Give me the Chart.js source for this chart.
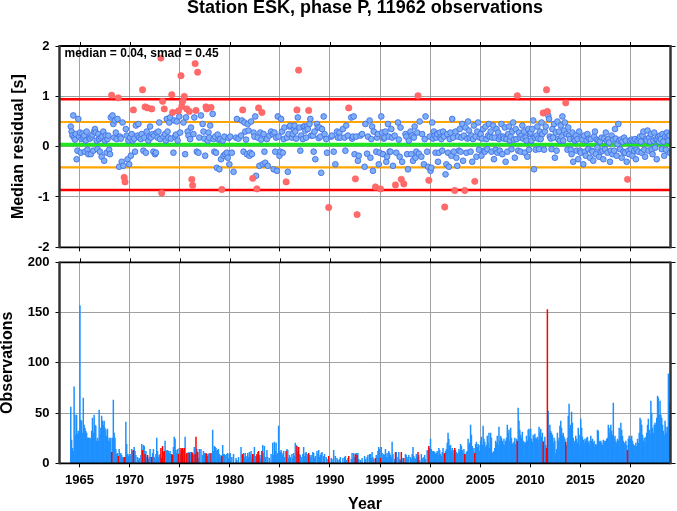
<!DOCTYPE html>
<html><head><meta charset="utf-8">
<script src="https://cdn.jsdelivr.net/npm/chart.js@4.4.1/dist/chart.umd.min.js"></script>
<style>
html,body{margin:0;padding:0;background:#fff;}
#wrap{position:relative;width:677px;height:511px;overflow:hidden;background:#fff}
canvas{position:absolute;left:0}
#top{top:0;width:677px;height:255px}
#bot{top:255px;width:677px;height:256px}
</style></head><body>
<div id="wrap"><canvas id="top" width="677" height="255"></canvas><canvas id="bot" width="677" height="256"></canvas></div>
<script>
const _ = null;
const titleText = 'Station ESK, phase P, 11962 observations';
const medianRes = 0.04;
const smadRes = 0.45;
const startYear = 1964;
const xRange = [1963, 2024];
const yearTicks = [1965,1970,1975,1980,1985,1990,1995,2000,2005,2010,2015,2020];
const resTicks = [-2,-1,0,1,2];
const obsTicks = [0,50,100,150,200];

// monthly observation counts (Jan..Dec per row), 1964-1969
const obsA = [
0,56,23,15,12,76,48,28,48,29,32,30,
157,43,42,30,65,38,35,32,30,25,25,25,
25,24,32,45,30,48,38,37,22,25,22,53,
28,35,47,42,38,42,35,33,27,34,22,25,
22,25,0,25,63,30,25,14,9,10,0,14,
9,10,8,6,5,0,0,41,19,9,7,9];
const resA = [
_,.40,.30,.22,.62,.18,.14,.25,-.25,-.08,.55,.20,
.28,-.12,.15,.26,.18,.22,-.10,.12,.30,-.06,-.15,.18,
.16,-.15,.20,.24,-.08,.30,.35,.28,.12,-.05,.25,.15,
-.10,.18,-.20,.20,.30,-.28,.12,.22,-.12,.15,.22,-.06,
-.15,.58,_,.62,.45,.18,.52,.28,.15,.55,_,-.40,
.20,.16,-.30,.48,-.38,_,_,.35,.22,-.25,.12,-.35];
// 1970-1979
const obsB = [
7,9,14,12,0,16,12,8,0,6,3,5,
0,8,19,0,18,17,0,12,6,0,4,6,
14,6,0,10,14,6,4,9,25,12,6,8,
9,0,0,0,11,0,22,13,12,13,12,10,
12,9,0,0,16,26,24,13,10,14,0,15,
10,0,0,0,13,0,26,8,0,10,11,0,
11,9,0,0,8,16,0,0,14,0,5,14,
0,14,0,8,12,10,9,0,0,7,9,10,
9,0,0,33,12,17,16,15,12,13,14,9,
6,8,0,18,9,9,8,0,9,10,5,9];
const resB = [
.18,-.18,.25,.12,_,.16,-.10,.42,_,.22,.45,.18,
_,.15,.25,_,-.08,.18,_,-.12,.30,_,.12,.20,
.40,.18,_,.25,-.10,.22,-.15,-.12,.28,.18,.30,.48,
.15,_,_,_,.20,_,.25,.12,.55,.30,.18,.48,
.58,.16,_,_,-.12,.52,.20,.24,.50,.12,_,.60,
.28,_,_,_,.48,_,-.15,.58,_,.30,.22,_,
.15,.38,_,_,.25,.58,_,_,-.10,_,-.12,.18,
_,.62,_,.45,.30,.16,-.18,_,_,.12,.28,.18,
.42,_,_,.65,.15,-.10,.20,-.12,-.42,.24,.14,-.45,
.15,-.25,_,.12,-.18,.20,-.15,_,-.12,-.22,.17,-.35];
// 1980-1989
const obsC = [
10,0,6,0,9,0,0,5,3,0,6,0,
0,16,8,0,10,6,10,7,4,10,6,11,
8,12,5,0,9,16,7,6,0,11,0,8,
5,8,0,18,10,17,6,0,13,6,0,5,
0,9,0,20,8,21,12,20,8,10,37,12,
11,13,10,8,12,6,0,0,14,13,5,8,
6,0,9,5,10,7,20,18,0,12,0,9,
8,6,0,9,16,7,10,11,6,9,0,8,
6,8,0,11,10,5,7,0,12,9,13,6,
8,10,11,0,7,9,0,6,4,0,0,0];
const resC = [
.20,_,-.12,_,-.50,_,_,.18,.55,_,.16,_,
_,.22,.52,_,-.10,.48,.30,.14,-.15,.45,.32,-.18,
-.12,.50,-.15,_,.28,.20,.60,-.58,_,.18,_,-.38,
.28,.14,_,-.35,.25,-.10,-.32,_,.15,-.38,_,.22,
_,.30,_,.25,-.45,.28,-.10,.18,-.48,.60,.20,-.18,
-.10,.55,.30,-.12,.15,.38,_,_,.18,-.50,.25,.40,
.42,_,.18,.25,.35,.42,.30,.16,_,.58,_,.38,
-.08,.22,_,.15,.40,.40,.32,.18,.40,.35,_,.45,
.55,.22,_,.22,-.10,.30,-.25,_,.45,.38,.17,.38,
.20,-.52,.35,_,.60,.25,_,.15,-.12,_,_,_];
// 1990-1999
const obsD = [
0,5,4,0,13,0,7,0,5,3,0,4,
6,0,0,5,0,6,7,3,0,5,0,0,
0,4,10,5,10,6,0,10,0,10,4,0,
3,0,5,0,0,7,4,0,6,8,0,9,
9,5,11,6,4,0,0,8,6,12,16,14,
0,16,10,6,9,8,14,6,10,5,12,10,
8,6,21,9,0,4,0,11,0,6,11,4,
3,0,5,0,0,0,9,8,4,6,8,0,
6,4,9,16,7,5,4,9,6,0,8,3,
0,9,5,0,6,8,4,0,13,12,0,15];
const resD = [
_,.20,.22,_,-.10,_,-.35,_,.30,.18,_,.28,
.18,_,_,.35,_,.18,-.08,.42,_,.22,_,_,
_,.58,.16,.20,.60,-.15,_,.20,_,-.28,-.18,_,
.22,_,.25,_,_,-.40,.45,_,-.14,.20,_,.52,
-.22,.15,.40,-.48,.30,_,_,-.10,.18,.25,-.35,-.12,
_,.60,.28,-.15,.16,.18,.30,-.30,-.20,.45,.20,-.10,
-.10,.35,.18,-.38,_,.22,_,-.12,_,.48,.14,-.20,
.38,_,-.30,_,_,_,.25,.20,-.15,-.45,.12,_,
.30,-.15,.22,-.28,.18,.40,-.22,-.10,.28,_,-.14,.50,
_,-.20,.25,_,-.35,.15,.60,_,-.10,-.40,_,.20];
// 2000-2009
const obsE = [
24,14,12,11,12,11,9,10,12,8,15,13,
9,7,11,15,9,0,12,14,20,30,24,17,
18,12,15,9,13,0,13,11,9,10,14,12,
19,17,13,10,14,0,9,11,12,24,18,20,
38,28,17,12,15,0,19,21,16,19,18,12,
22,26,18,37,24,21,16,18,27,20,30,15,
30,25,10,11,12,15,22,20,27,18,36,22,
27,25,22,19,24,18,22,25,38,30,33,22,
35,25,19,20,21,25,19,24,0,55,42,33,
28,25,31,22,19,21,20,27,22,33,34,26];
const resE = [
-.48,-.42,.48,.16,.30,.22,-.12,.18,.25,-.30,-.12,.28,
.18,.15,-.08,.30,.20,_,-.55,-.35,.25,-.12,-.40,.15,
.28,-.18,.55,.18,-.10,_,.30,-.22,-.38,.20,-.08,.35,
-.10,.18,.45,-.28,.22,_,.38,-.12,.16,.50,.32,.18,
-.10,.22,-.30,.15,.42,_,.20,-.20,.30,.48,-.06,.18,
.25,-.18,.16,.35,-.08,-.10,.40,.15,-.05,.22,.45,.20,
.30,-.10,.18,.42,-.25,.18,-.06,.35,-.12,.28,.15,-.08,
.20,.45,-.15,.20,.16,.38,-.30,.15,-.10,.25,.40,.12,
.20,-.05,.30,.48,.14,-.22,.35,.15,_,-.08,.28,.18,
-.10,.22,.42,.16,.30,-.12,.18,.12,-.20,.35,-.06,.25];
// 2010-2019
const obsF = [
34,24,21,28,25,29,25,24,26,23,36,30,
34,26,30,0,22,26,18,0,0,52,30,38,
32,30,28,20,25,22,10,14,30,22,25,37,
42,35,28,30,26,24,0,18,25,47,59,35,
38,51,40,25,22,20,27,24,20,35,28,18,
44,35,26,23,20,24,22,25,26,20,22,18,
27,22,24,20,22,16,19,18,33,32,22,21,
22,20,18,23,22,21,22,24,25,38,30,35,
38,32,28,60,25,27,22,20,24,22,35,26,
40,33,27,22,20,20,22,18,0,24,27,25];
const resF = [
.28,.12,.35,.52,-.45,.18,-.06,.22,.40,.16,-.05,.30,
.15,.48,.25,_,-.06,.30,.40,_,_,.62,.55,.20,
.16,-.05,.35,.18,.45,-.22,.28,-.08,.50,.15,.30,.12,
.42,.20,.60,.12,.32,.48,_,.25,-.06,.38,.22,.15,
-.06,-.15,.28,-.30,.16,.12,.22,-.08,.15,-.25,.30,-.08,
-.12,.18,.14,-.35,.22,-.10,-.18,.12,.25,-.05,.16,-.22,
.15,-.08,-.10,-.28,.20,.30,-.15,.14,-.02,.12,-.20,.10,
-.10,.18,-.08,-.25,.16,-.05,.28,.12,-.12,.15,.08,-.30,
-.08,.22,-.15,.14,-.08,.35,.16,-.18,.05,.45,.12,-.05,
.14,-.22,.10,-.10,.18,-.12,.12,-.30,_,-.08,-.15,.12];
// 2020-2023
const obsG = [
23,27,22,19,17,18,20,17,24,20,30,45,
43,38,28,22,25,20,26,30,38,44,33,29,
62,50,35,30,38,40,38,45,67,65,48,62,
48,45,38,32,28,42,36,30,36,89,48,60];
const resG = [
-.05,.14,-.18,.12,-.08,.15,-.25,-.06,.12,-.10,.16,.20,
.10,-.12,.22,.30,-.06,-.20,.15,.12,.32,-.08,.18,.10,
.25,-.06,-.15,.12,.28,-.02,.15,-.25,.14,.20,.10,.22,
.15,-.05,.25,.10,-.18,.20,-.06,.28,.18,.12,.22,-.12];

// outlier bins (drawn red)
const redYear  = [1968,1968,1969,1969,1970,1971,1971,1971,1972,1973,1973,1973,1973,1974,1974,1974,1975,1975,1975,1975,1975,1975,1976,1976,1976,1976,1976,1977,1977,1978,1979,1981,1982,1982,1982,1983,1985,1986,1986,1987,1989,1991,1992,1992,1994,1995,1996,1997,1997,1998,1999,2001,2002,2003,2004,2008,2011,2011,2011,2013,2019];
const redMonth = [3,11,6,7,5,4,7,10,3,2,3,4,6,3,4,11,2,3,4,6,9,12,3,4,7,8,10,8,9,2,3,4,4,9,11,3,8,9,11,11,11,11,7,9,7,1,7,2,5,10,11,6,6,6,6,9,4,8,9,7,9];
const redRes   = [1.02,.97,-.61,-.70,.73,1.13,.79,.77,.75,1.76,-.92,.90,.75,1.03,.68,.71,1.41,.80,.90,1.00,.75,.70,-.65,-.77,1.65,.72,1.48,.79,.75,.78,-.85,.73,-.63,-.84,.77,.68,-.70,.73,1.52,.72,-1.21,.77,-.64,-1.35,-.80,-.84,-.76,-.65,-.74,1.01,-.67,-1.20,-.87,-.87,-.69,1.01,.67,1.13,.70,.87,-.65];
const redObs   = [11,7,6,6,13,13,9,8,6,15,5,17,12,9,8,9,15,14,15,15,10,10,11,10,9,26,11,10,9,10,7,9,9,9,12,12,12,17,16,10,7,7,9,8,5,5,11,11,5,11,17,10,15,9,10,22,21,15,153,21,13];

const monthlyObs = [].concat(obsA, obsB, obsC, obsD, obsE, obsF, obsG);
const monthlyRes = [].concat(resA, resB, resC, resD, resE, resF, resG);
const redKey = new Set(redYear.map((y, i) => y * 12 + redMonth[i] - 1));
const bluePts = [], blueBars = [];
monthlyObs.forEach((n, i) => {
  const y = startYear + Math.floor(i / 12), m = i % 12;
  if (redKey.has(y * 12 + m) || !n) return;
  const t = y + (m + 0.5) / 12;
  blueBars.push({x: t, y: n});
  if (monthlyRes[i] !== null) bluePts.push({x: t, y: monthlyRes[i]});
});
const redPts = redYear.map((y, i) => ({x: y + (redMonth[i] - 0.5) / 12, y: redRes[i]}));
const redBars = redYear.map((y, i) => ({x: y + (redMonth[i] - 0.5) / 12, y: redObs[i]}));
const hline = v => xRange.map(x => ({x, y: v}));

const FONT = "'Liberation Sans', Arial, Helvetica, sans-serif";
Chart.defaults.font.family = FONT;
Chart.defaults.color = '#000';
const GRID = '#a0a0a0';

const framePlugin = {
  id: 'frame',
  afterDatasetsDraw(chart, args, opts) {
    const {ctx, chartArea: a, scales} = chart;
    ctx.save();
    ctx.strokeStyle = '#000'; ctx.lineWidth = 1;
    scales.x.ticks.forEach(t => {
      const px = Math.round(scales.x.getPixelForValue(t.value)) + 0.5;
      ctx.beginPath(); ctx.moveTo(px, a.top); ctx.lineTo(px, a.top - 4); ctx.stroke();
    });
    scales.y.ticks.forEach(t => {
      const py = Math.round(scales.y.getPixelForValue(t.value)) + 0.5;
      ctx.beginPath(); ctx.moveTo(a.right, py); ctx.lineTo(a.right + 5, py); ctx.stroke();
    });
    ctx.strokeStyle = '#000'; ctx.lineWidth = 1.8;
    ctx.beginPath();
    ctx.moveTo(a.left, a.top); ctx.lineTo(a.right, a.top);
    ctx.moveTo(a.left, a.bottom); ctx.lineTo(a.right, a.bottom);
    ctx.stroke();
    ctx.strokeStyle = '#333'; ctx.lineWidth = 2.5;
    ctx.beginPath();
    ctx.moveTo(a.left, a.top - 0.9); ctx.lineTo(a.left, a.bottom + 0.9);
    ctx.moveTo(a.right, a.top - 0.9); ctx.lineTo(a.right, a.bottom + 0.9);
    ctx.stroke();
    if (opts && opts.note) {
      ctx.font = 'bold 12px ' + FONT;
      ctx.fillStyle = '#000'; ctx.textAlign = 'left'; ctx.textBaseline = 'middle';
      ctx.fillText(opts.note, a.left + 5, a.top + 7.5);
    }
    ctx.restore();
  }
};

const gridOpts = {color: GRID, lineWidth: 1, tickLength: 4, tickColor: '#000', tickWidth: 1, drawTicks: true};
const yTickFont = {size: 13, weight: 'bold', lineHeight: 0.2};
const plainNum = v => String(v);

new Chart(document.getElementById('top'), {
  type: 'scatter',
  data: {datasets: [
    {label: 'outlier bins', data: redPts, backgroundColor: '#ff6b6b', borderColor: '#ff5c5c', pointBorderWidth: 0.6, pointRadius: 3.2, order: 1},
    {label: 'bins', data: bluePts, backgroundColor: '#7eaef6', borderColor: '#4270e8', pointBorderWidth: 0.9, pointRadius: 2.85, order: 2},
    {label: 'median', data: hline(medianRes), showLine: true, borderColor: '#1ee61e', borderWidth: 3.6, pointRadius: 0, order: 3},
    {label: 'median + smad', data: hline(medianRes + smadRes), showLine: true, borderColor: '#ffa500', borderWidth: 2.2, pointRadius: 0, order: 4},
    {label: 'median - smad', data: hline(medianRes - smadRes), showLine: true, borderColor: '#ffa500', borderWidth: 2.2, pointRadius: 0, order: 4},
    {label: 'median + 2 smad', data: hline(medianRes + 2 * smadRes), showLine: true, borderColor: '#ff0000', borderWidth: 2.5, pointRadius: 0, order: 4},
    {label: 'median - 2 smad', data: hline(medianRes - 2 * smadRes), showLine: true, borderColor: '#ff0000', borderWidth: 2.5, pointRadius: 0, order: 4}
  ]},
  options: {
    responsive: false, animation: false, events: [],
    layout: {padding: {left: 0, right: 6.5, top: 0, bottom: 0}},
    plugins: {
      legend: {display: false}, tooltip: {enabled: false},
      title: {display: true, text: titleText, fullSize: false, color: '#000',
              font: {size: 18, weight: 'bold', lineHeight: 0.85}, padding: {top: 0, bottom: 30.7}},
      frame: {note: 'median = ' + medianRes.toFixed(2) + ', smad = ' + smadRes.toFixed(2)}
    },
    scales: {
      x: {type: 'linear', min: xRange[0], max: xRange[1], offset: false,
          afterBuildTicks: s => { s.ticks = yearTicks.map(v => ({value: v})); },
          ticks: {display: false}, grid: gridOpts, border: {display: false},
          afterFit: s => { s.height = 7.7; }},
      y: {type: 'linear', min: -2, max: 2,
          afterBuildTicks: s => { s.ticks = resTicks.map(v => ({value: v})); },
          ticks: {font: yTickFont, padding: 6, color: '#000', callback: plainNum}, grid: gridOpts, border: {display: false},
          title: {display: true, text: 'Median residual [s]', color: '#000', font: {size: 16, weight: 'bold', lineHeight: 1}, padding: {top: 10.5, bottom: 0}},
          afterFit: s => { s.width = 59.5; }}
    }
  },
  plugins: [framePlugin]
});

new Chart(document.getElementById('bot'), {
  type: 'bar',
  data: {datasets: [
    {label: 'outlier bins', data: redBars, backgroundColor: '#ff0000', grouped: false, barPercentage: 1, categoryPercentage: 1, order: 1},
    {label: 'observations', data: blueBars, backgroundColor: '#1e90ff', grouped: false, barPercentage: 1, categoryPercentage: 1, order: 2}
  ]},
  options: {
    responsive: false, animation: false, events: [],
    layout: {padding: {left: 0, right: 6.5, top: 6.7, bottom: 0}},
    plugins: {legend: {display: false}, tooltip: {enabled: false}, frame: {}},
    scales: {
      x: {type: 'linear', min: xRange[0], max: xRange[1], offset: false,
          afterBuildTicks: s => { s.ticks = yearTicks.map(v => ({value: v})); },
          ticks: {font: {size: 13, weight: 'bold'}, padding: 5, color: '#000', maxRotation: 0, autoSkip: false, callback: plainNum},
          grid: Object.assign({}, gridOpts, {offset: false}), border: {display: false},
          title: {display: true, text: 'Year', color: '#000', font: {size: 16, weight: 'bold', lineHeight: 1}, padding: {top: 0, bottom: -2}},
          afterFit: s => { s.height = 47.7; }},
      y: {type: 'linear', min: 0, max: 200,
          afterBuildTicks: s => { s.ticks = obsTicks.map(v => ({value: v})); },
          ticks: {font: yTickFont, padding: 6, color: '#000', callback: plainNum}, grid: gridOpts, border: {display: false},
          title: {display: true, text: 'Observations', color: '#000', font: {size: 16, weight: 'bold', lineHeight: 1}, padding: {top: 0, bottom: 0}},
          afterFit: s => { s.width = 59.5; }}
    }
  },
  plugins: [framePlugin]
});
</script></body></html>
